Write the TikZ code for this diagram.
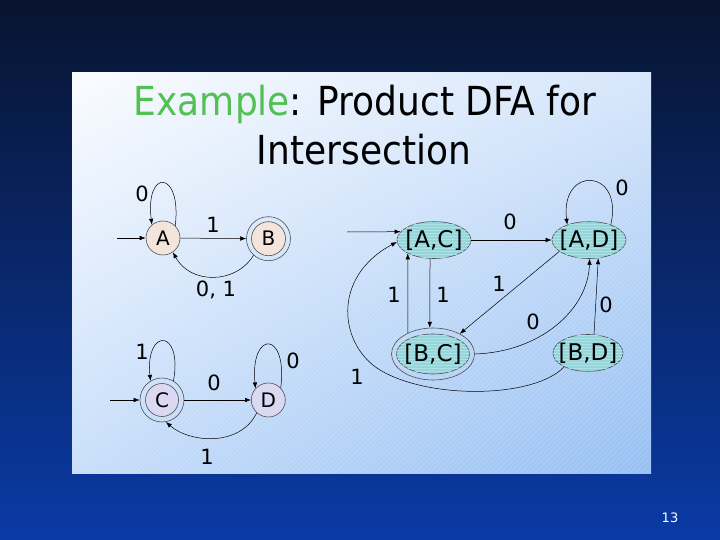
\documentclass[tikz,border=0pt]{standalone}
\usepackage{fontspec}
\setmainfont{DejaVu Sans}
\usetikzlibrary{arrows.meta,shapes.geometric,patterns,shadings}
\definecolor{bgtop}{RGB}{8,20,48}
\definecolor{bgmid}{RGB}{11,36,100}
\definecolor{bgbot}{RGB}{10,58,165}
\definecolor{panelUL}{RGB}{250,252,255}
\definecolor{panelUR}{RGB}{214,230,251}
\definecolor{panelLL}{RGB}{200,222,250}
\definecolor{panelLR}{RGB}{150,192,243}
\definecolor{titlegreen}{RGB}{82,192,82}
\definecolor{nodegray}{RGB}{80,80,80}
\definecolor{peachfill}{RGB}{244,229,220}
\definecolor{lavfill}{RGB}{218,216,242}
\definecolor{cyanfill}{RGB}{150,214,218}
\definecolor{cyanstripe}{RGB}{172,226,229}
\begin{document}
\begin{tikzpicture}[x=1pt,y=-1pt,
  state/.style={circle, draw=nodegray, line width=0.6pt, inner sep=0pt,
    font=\fontsize{20}{20}\selectfont},
  peachst/.style={state, fill=peachfill, minimum size=34pt},
  lavst/.style={state, fill=lavfill, minimum size=33pt},
  ring/.style={circle, draw=nodegray, line width=0.6pt, inner sep=0pt, minimum size=44pt},
  prod/.style={ellipse, draw=nodegray, line width=0.6pt, fill=cyanfill,
    postaction={pattern=horizontal lines, pattern color=cyanstripe},
    minimum width=74pt, minimum height=37pt, inner sep=0pt, inner xsep=-6pt,
    font=\fontsize{23}{23}\selectfont},
  prodring/.style={ellipse, draw=nodegray, line width=0.6pt, inner sep=0pt,
    minimum width=83pt, minimum height=52pt},
  arr/.style={-{Latex[length=6pt,width=4.5pt]}, line width=0.5pt, black},
  lbl/.style={font=\fontsize{21}{21}\selectfont, inner sep=0pt},
  hatch/.style={white, opacity=0.2, line width=0.6pt}
]
\useasboundingbox (0,0) rectangle (720,540);
% background
\shade[top color=bgtop, middle color=bgmid, bottom color=bgbot] (0,0) rectangle (720,540);
% panel
\shade[upper left=panelUL, upper right=panelUR, lower left=panelLL, lower right=panelLR]
  (72,73) rectangle (651,473);
\begin{scope}
  \clip (72,73) rectangle (651,473);
  \foreach \i in {0,5,...,1000} \draw[hatch] (\i-330,473) -- ++(400,-400);
\end{scope}
% title
\node[anchor=base, inner sep=0pt, font=\fontsize{40}{40}\selectfont] (title1) at (365,116)
  {\scalebox{0.9}[1]{{\color{titlegreen}Example}: Product DFA for}};
\node[anchor=base, inner sep=0pt, font=\fontsize{40}{40}\selectfont] (title2) at (364,165)
  {\scalebox{0.9}[1]{Intersection}};
% left DFAs
\node[peachst] (A) at (163,238) {A};
\node[peachst] (B) at (268.5,238.7) {B};
\node[ring] (Bo) at (B) {};
\node[lavst] (C) at (162,400) {C};
\node[ring] (Co) at (C) {};
\node[lavst, minimum size=34pt] (D) at (268.3,400) {D};
\coordinate (sA) at (117,238);
\coordinate (sC) at (110,400);
\draw[arr] (sA) -- (A);
\draw[arr] (A.45) .. controls (182,170) and (145,168) .. (A.130);
\node[lbl] (lA0) at (142,194) {0};
\draw[arr] (A) -- (Bo);
\node[lbl] (lAB) at (213,225) {1};
\draw[arr] (Bo.-132) .. controls (235,285) and (190,284) .. (A.-55);
\node[lbl] (lBA) at (216,290) {0, 1};
\draw[arr] (sC) -- (Co);
\draw[arr] (Co.59) .. controls (183,328) and (145,328) .. (Co.121);
\node[lbl] (lC1) at (142,352) {1};
\draw[arr] (Co) -- (D);
\node[lbl] (lCD) at (214,383) {0};
\draw[arr] (D.44) .. controls (288,330) and (250,330) .. (D.138);
\node[lbl] (lD0) at (293,361) {0};
\draw[arr] (D.-132) .. controls (240,447) and (190,443) .. (Co.-80);
\node[lbl] (lDC) at (207,457) {1};
% product DFA
\node[prod] (AC) at (434,240) {[A,C]};
\node[prod] (AD) at (589,240) {[A,D]};
\node[prod, minimum width=73pt, minimum height=40pt] (BC) at (433,354) {[B,C]};
\node[prodring] (BCo) at (BC) {};
\node[prod, minimum width=70pt] (BD) at (588,353) {[B,D]};
\coordinate (sAC) at (347,232);
\draw[arr] (sAC) -- (AC.166);
\draw[arr] (AC) -- (AD);
\node[lbl] (l1) at (510,222) {0};
\draw[arr] (AD.35) .. controls (624,168) and (560,165) .. (AD.145);
\node[lbl] (l2) at (622,188) {0};
\draw[arr] (AC.-102) -- (BCo.97);
\node[lbl] (l3) at (443,295) {1};
\draw[arr] (BCo.140) -- (AC.-153);
\node[lbl] (l4) at (394,295) {1};
\draw[arr] (AD.-159) -- (BCo.37);
\node[lbl] (l5) at (499,284) {1};
\draw[arr] (BCo.0) .. controls (540,352) and (588,310) .. (AD.-88);
\node[lbl] (l6) at (533,322) {0};
\draw[arr] (BD.72) -- (AD.-63);
\node[lbl] (l7) at (606,305) {0};
\draw[arr] (BD.-150) .. controls (535,398) and (430,400) .. (380,370)
  .. controls (340,346) and (330,278) .. (AC.183);
\node[lbl] (l8) at (357,377) {1};
% page number
\node[text=white, font=\fontsize{13}{13}\selectfont, inner sep=0pt] (pg) at (670,518) {13};
\end{tikzpicture}
\end{document}
